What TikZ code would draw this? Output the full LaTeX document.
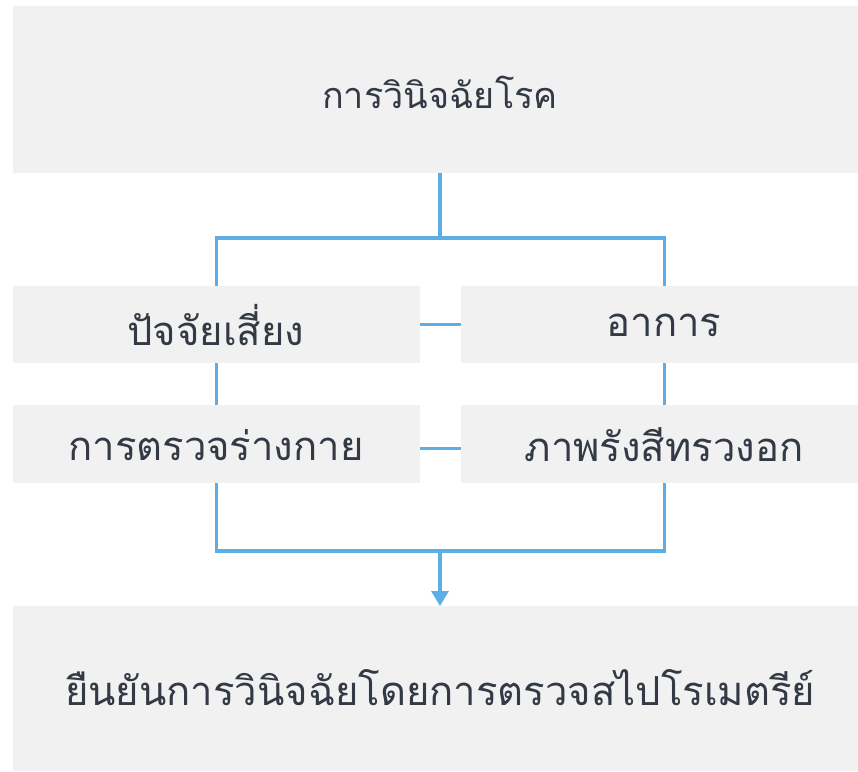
\documentclass[tikz,border=0pt]{standalone}
\usepackage{fontspec}
\newfontfamily\thaifont[Script=Thai]{Loma}
\usetikzlibrary{arrows.meta}
\definecolor{boxfill}{RGB}{241,241,241}
\definecolor{linec}{RGB}{93,173,230}
\definecolor{txt}{RGB}{51,58,69}
\begin{document}
\begin{tikzpicture}[x=1pt,y=-1pt,
  box/.style={fill=boxfill,draw=none},
  lbl/.style={text=txt,font=\thaifont\fontsize{40}{48}\selectfont,inner sep=0pt},
  conn/.style={draw=linec,line width=3.2pt},
]
\useasboundingbox (0,0) rectangle (858,771);
% connectors drawn first (behind boxes)
\coordinate (topbot) at (440,173);
\coordinate (ttop) at (440,238);
\coordinate (tl) at (216.5,238);
\coordinate (tr) at (664.5,238);
\coordinate (bl) at (216.5,551);
\coordinate (br) at (664.5,551);
\coordinate (bm) at (440,551);
\coordinate (arrend) at (440,606);
\draw[conn] (topbot) -- (ttop);
\draw[conn,line join=miter] (bl) -- (tl) -- (tr) -- (br) -- cycle;
\draw[conn,-{Triangle[length=15pt,width=17pt]}] (bm) -- (arrend);
% boxes
\fill[box] (13,6) rectangle (858,173);
\node[lbl,font=\thaifont\fontsize{36}{44}\selectfont] (t) at (440,92) {การวินิจฉัยโรค};
\fill[box] (13,286) rectangle (420,363);
\node[lbl] (a) at (216,325) {ปัจจัยเสี่ยง};
\fill[box] (461,286) rectangle (858,363);
\node[lbl] (b) at (664,325) {อาการ};
\fill[box] (13,405) rectangle (420,483);
\node[lbl] (c) at (216,445) {การตรวจร่างกาย};
\fill[box] (461,405) rectangle (858,483);
\node[lbl] (d) at (664,445) {ภาพรังสีทรวงอก};
\fill[box] (13,606) rectangle (858,771);
\node[lbl] (e) at (440,688) {ยืนยันการวินิจฉัยโดยการตรวจสไปโรเมตรีย์};
\coordinate (m1l) at (420,324.5);
\coordinate (m1r) at (461,324.5);
\coordinate (m2l) at (420,448.5);
\coordinate (m2r) at (461,448.5);
\draw[conn] (m1l) -- (m1r);
\draw[conn] (m2l) -- (m2r);
\end{tikzpicture}
\end{document}
